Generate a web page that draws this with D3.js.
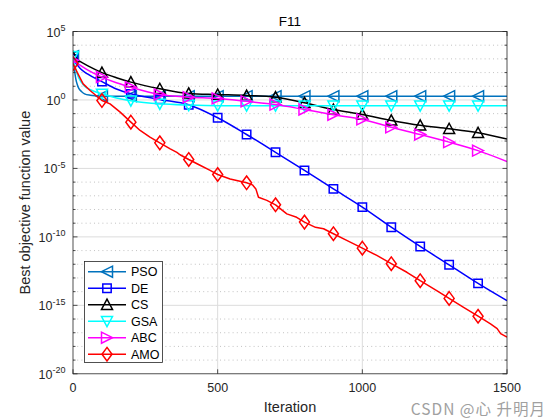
<!DOCTYPE html>
<html><head><meta charset="utf-8">
<script src="https://cdn.jsdelivr.net/npm/d3@7"></script>
<style>
html,body{margin:0;padding:0;background:#fff;}
svg{display:block;font-family:"Liberation Sans",Arial,sans-serif;}
</style></head>
<body><svg id="chart" width="560" height="420"></svg>
<script>
// ---------- data ----------
const title = "F11";
const xLabel = "Iteration";
const yLabel = "Best objective function value";
const xTicks = [0, 500, 1000, 1500];
const yMajorExps = [5, 0, -5, -10, -15, -20];
const seriesNames = ["PSO", "DE", "CS", "GSA", "ABC", "AMO"];

const psoIter = [0,5,10,15,20,30,40,60,80,100,200,300,400,500,600,700,800,900,1000,1100,1200,1300,1400,1500];
const psoVal  = [1.6e3,1.6e2,32,13,7.1,4.0,2.8,2.2,2.0,1.9,1.9,1.9,1.9,1.9,1.9,1.9,1.9,1.9,1.9,1.9,1.9,1.9,1.9,1.9];

const deIter = [0,25,50,100,150,200,300,400,500,600,700,800,900,1000,1100,1200,1300,1400,1500];
const deVal  = [1.0e3,2.0e2,79,22,6.3,2.8,1.1,0.45,0.050,3.0e-3,1.5e-4,7.1e-6,3.2e-7,1.5e-8,5.1e-10,2.0e-11,9.1e-13,4.0e-14,2.2e-15];

const csIter = [0,50,100,150,200,300,400,500,600,700,800,900,1000,1100,1200,1300,1400,1500];
const csVal  = [1.35e3,3.2e2,1.0e2,42,20,6.6,3.0,2.5,2.1,1.6,0.63,0.20,0.087,0.032,0.014,7.9e-3,4.0e-3,1.4e-3];

const gsaIter = [0,10,20,40,60,100,150,200,300,400,500,600,700,800,900,1000,1100,1200,1300,1400,1500];
const gsaVal  = [1.6e3,1.6e2,40,10,5.6,2.8,1.4,0.89,0.52,0.42,0.38,0.38,0.38,0.38,0.38,0.38,0.38,0.38,0.38,0.38,0.38];

const abcIter = [0,50,100,150,200,300,400,500,600,700,800,900,1000,1100,1200,1300,1400,1500];
const abcVal  = [7.9e2,1.6e2,47,18,8.5,2.5,1.6,1.3,0.79,0.46,0.20,0.083,0.038,0.010,3.0e-3,8.3e-4,2.0e-4,3.2e-5];

const amoIter = [0,15,35,59,100,128,163,200,232,266,300,336,359,370,400,439,474,500,543,600,620,632,641,670,700,739,773,800,838,866,900,946,1000,1050,1100,1154,1200,1257,1300,1350,1400,1443,1466,1478,1500];
const amoVal  = [4.5e2,1.0e2,15,4.9,0.91,0.52,0.13,0.024,5.9e-3,1.9e-3,7.4e-4,2.7e-4,1.5e-4,1.0e-4,4.5e-5,1.7e-5,7.1e-6,3.6e-6,1.7e-6,8.9e-7,6.3e-7,3.2e-7,7.9e-8,4.6e-8,2.2e-8,4.8e-9,2.7e-9,1.2e-9,5.0e-10,3.9e-10,1.7e-10,5.5e-11,1.5e-11,4.4e-12,1.1e-12,2.6e-13,6.3e-14,1.2e-14,3.2e-15,7.2e-16,1.6e-16,4.5e-17,2.0e-17,8.5e-18,4.7e-18];

// ---------- styling ----------
const colors  = {PSO:"#0072BD", DE:"#0000FF", CS:"#000000", GSA:"#00FFFF", ABC:"#FF00FF", AMO:"#FF0000"};
const markers = {PSO:"left", DE:"square", CS:"up", GSA:"down", ABC:"right", AMO:"diamond"};
const iters = {PSO:psoIter, DE:deIter, CS:csIter, GSA:gsaIter, ABC:abcIter, AMO:amoIter};
const vals  = {PSO:psoVal, DE:deVal, CS:csVal, GSA:gsaVal, ABC:abcVal, AMO:amoVal};

const L = 73, R = 507, T = 31.5, B = 373.8;
const svg = d3.select("#chart");
const x = d3.scaleLinear().domain([0, 1500]).range([L, R]);
const y = d3.scaleLog().domain([1e-20, 1e5]).range([B, T]);

// grid
const g = svg.append("g");
const minorExps = d3.range(-19, 5).filter(e => e % 5 !== 0);
g.selectAll("line.minor").data(minorExps).join("line")
  .attr("x1", L).attr("x2", R)
  .attr("y1", e => y(Math.pow(10, e))).attr("y2", e => y(Math.pow(10, e)))
  .attr("stroke", "#9a9a9a").attr("stroke-width", 0.6).attr("stroke-dasharray", "1,3.2");
g.selectAll("line.majy").data(yMajorExps.filter(e => e < 5 && e > -20)).join("line")
  .attr("x1", L).attr("x2", R)
  .attr("y1", e => y(Math.pow(10, e))).attr("y2", e => y(Math.pow(10, e)))
  .attr("stroke", "#dcdcdc").attr("stroke-width", 1);
g.selectAll("line.majx").data(xTicks.filter(t => t > 0 && t < 1500)).join("line")
  .attr("x1", d => x(d)).attr("x2", d => x(d)).attr("y1", T).attr("y2", B)
  .attr("stroke", "#dcdcdc").attr("stroke-width", 1);

// clip
svg.append("clipPath").attr("id", "clip").append("rect")
  .attr("x", L).attr("y", T).attr("width", R - L).attr("height", B - T);

function markerPath(type) {
  const s = 5.5;
  switch (type) {
    case "left":  return `M${-s},0L${s},${-s}L${s},${s}Z`;
    case "right": return `M${s},0L${-s},${-s}L${-s},${s}Z`;
    case "up":    return `M0,${-s}L${s},${s*0.85}L${-s},${s*0.85}Z`;
    case "down":  return `M0,${s}L${s},${-s*0.85}L${-s},${-s*0.85}Z`;
    case "square":return `M-4.2,-4.2L4.2,-4.2L4.2,4.2L-4.2,4.2Z`;
    case "diamond":return `M0,-6.8L5,0L0,6.8L-5,0Z`;
  }
}

const plot = svg.append("g").attr("clip-path", "url(#clip)");
seriesNames.forEach(name => {
  const pts = iters[name].map((it, i) => ({it, v: vals[name][i]}));
  const line = d3.line().x(d => x(d.it)).y(d => y(d.v))
    .curve(name === "AMO" ? d3.curveLinear : d3.curveMonotoneX);
  plot.append("path").datum(pts).attr("d", line)
    .attr("fill", "none").attr("stroke", colors[name]).attr("stroke-width", 1.5)
    .attr("stroke-linejoin", "round");
  plot.selectAll(null).data(pts.filter(d => d.it % 100 === 0 && d.it < 1500)).join("path")
    .attr("transform", d => `translate(${x(d.it)},${y(d.v)})`)
    .attr("d", markerPath(markers[name]))
    .attr("fill", "none").attr("stroke", colors[name]).attr("stroke-width", 1.5);
});

// axes box and ticks
const ax = svg.append("g").attr("stroke", "#262626").attr("stroke-width", 0.8);
ax.append("rect").attr("x", L).attr("y", T).attr("width", R - L).attr("height", B - T).attr("fill", "none");
xTicks.forEach(t => {
  ax.append("line").attr("x1", x(t)).attr("x2", x(t)).attr("y1", B).attr("y2", B - 4.5);
  ax.append("line").attr("x1", x(t)).attr("x2", x(t)).attr("y1", T).attr("y2", T + 4.5);
});
d3.range(-20, 6).forEach(e => {
  const len = (e % 5 === 0) ? 4.5 : 2.5;
  const yy = y(Math.pow(10, e));
  ax.append("line").attr("x1", L).attr("x2", L + len).attr("y1", yy).attr("y2", yy);
  ax.append("line").attr("x1", R).attr("x2", R - len).attr("y1", yy).attr("y2", yy);
});

// tick labels
const txtColor = "#262626";
svg.append("g").selectAll("text").data(xTicks).join("text")
  .attr("x", d => x(d)).attr("y", 392).attr("text-anchor", "middle")
  .attr("font-size", 12.5).attr("fill", txtColor).text(d => d);
const yl = svg.append("g").selectAll("text").data(yMajorExps).join("text")
  .attr("x", 65.5).attr("y", e => y(Math.pow(10, e)) + 5).attr("text-anchor", "end")
  .attr("font-size", 12.5).attr("fill", txtColor);
yl.append("tspan").text("10");
yl.append("tspan").attr("dy", -5.5).attr("font-size", 9).text(e => e);

// titles
svg.append("text").attr("x", 290).attr("y", 26).attr("text-anchor", "middle")
  .attr("font-size", 13.5).attr("fill", "#000").text(title);
svg.append("text").attr("x", 290).attr("y", 412).attr("text-anchor", "middle")
  .attr("font-size", 14.5).attr("fill", txtColor).text(xLabel);
svg.append("text").attr("transform", `translate(30,${(T + B) / 2}) rotate(-90)`)
  .attr("text-anchor", "middle").attr("font-size", 14.5).attr("fill", txtColor).text(yLabel);

// legend
const lg = svg.append("g");
lg.append("rect").attr("x", 84.5).attr("y", 261.5).attr("width", 78).attr("height", 101)
  .attr("fill", "#fff").attr("stroke", "#262626").attr("stroke-width", 0.8);
seriesNames.forEach((name, i) => {
  const yy = 271.7 + i * 16.5;
  lg.append("line").attr("x1", 88).attr("x2", 126).attr("y1", yy).attr("y2", yy)
    .attr("stroke", colors[name]).attr("stroke-width", 1.5);
  lg.append("path").attr("transform", `translate(107,${yy})`).attr("d", markerPath(markers[name]))
    .attr("fill", "none").attr("stroke", colors[name]).attr("stroke-width", 1.5);
  lg.append("text").attr("x", 131).attr("y", yy + 4.5).attr("font-size", 12.5).attr("fill", "#000").text(name);
});

// watermark
svg.append("text").attr("x", 546).attr("y", 415).attr("text-anchor", "end")
  .attr("font-family", "'Noto Sans CJK SC','Liberation Sans',sans-serif")
  .attr("font-size", 15.5).attr("letter-spacing", 1).attr("fill", "#a0a0a0").text("CSDN @心 升明月");
</script></body></html>
